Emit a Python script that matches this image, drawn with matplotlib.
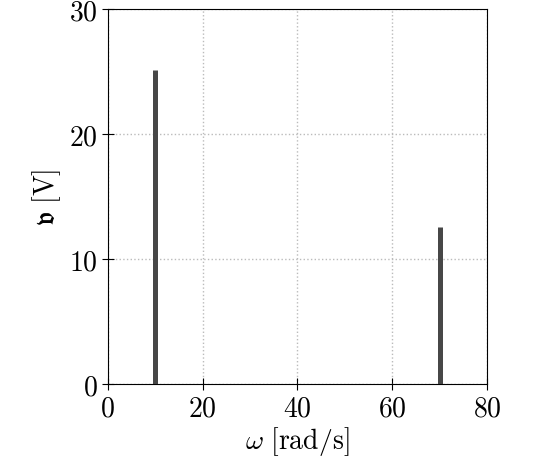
import matplotlib
matplotlib.use("Agg")
import matplotlib.pyplot as plt

omega = [10, 70]
amplitude = [25.13, 12.57]
xticks = [0, 20, 40, 60, 80]
yticks = [0, 10, 20, 30]

plt.rcParams['mathtext.fontset'] = 'cm'
plt.rcParams['font.family'] = 'serif'
plt.rcParams['font.serif'] = ['DejaVu Serif']

fig = plt.figure(figsize=(5.42, 4.64), dpi=100)
ax = fig.add_axes([0.199, 0.170, 0.6995, 0.808])
ax.vlines(omega, 0, amplitude, color='#474747', linewidth=3.6, zorder=3)
ax.set_xlim(0, 80)
ax.set_ylim(0, 30)
ax.set_xticks(xticks)
ax.set_yticks(yticks)
ax.set_xticklabels([f'${t}$' for t in xticks])
ax.set_yticklabels([f'${t}$' for t in yticks])
ax.tick_params(labelsize=20, direction='inout', length=8)
ax.grid(True, linestyle=':', color='#bbbbbb', linewidth=1)
ax.set_axisbelow(True)
ax.set_xlabel(r'$\omega\ \mathrm{[rad/s]}$', fontsize=20, labelpad=2)
ax.set_ylabel(r'$\mathfrak{v}\ \mathrm{[V]}$', fontsize=20, labelpad=4)
fig.savefig('out.png', dpi=100)
